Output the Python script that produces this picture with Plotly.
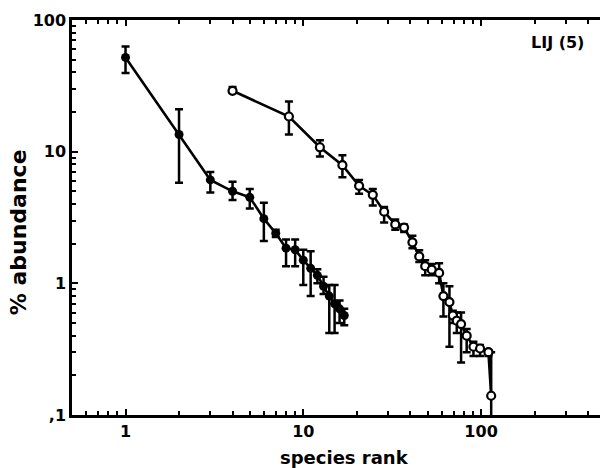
import numpy as np
import plotly.graph_objects as go

# Filled-circle series
rank_a = [1, 2, 3, 4, 5, 6, 7, 8, 9, 10, 11, 12, 13, 14, 15, 16, 17]
abund_a = [52, 13.5, 6.1, 5.0, 4.5, 3.1, 2.4, 1.85, 1.8, 1.5, 1.3, 1.15, 0.95, 0.8, 0.7, 0.64, 0.57]
low_a = [39.5, 5.8, 4.9, 4.3, 3.7, 2.1, 2.25, 1.35, 1.35, 0.97, 0.8, 1.0, 0.83, 0.42, 0.42, 0.5, 0.48]
high_a = [63, 21, 7.0, 5.9, 5.2, 4.1, 2.55, 2.15, 2.15, 1.8, 1.75, 1.28, 1.12, 0.97, 0.97, 0.74, 0.64]

# Open-circle series
rank_b = [4, 8.3, 12.4, 16.6, 20.6, 24.6, 28.5, 32.9, 36.9, 41.1, 44.9, 48.5, 52.8, 58.1,
          61.4, 66.4, 69.4, 73, 77.2, 83, 90.6, 98.7, 110, 114]
abund_b = [29, 18.5, 10.8, 7.9, 5.5, 4.7, 3.5, 2.8, 2.65, 2.05, 1.6, 1.35, 1.27, 1.2,
           0.8, 0.72, 0.57, 0.52, 0.49, 0.4, 0.33, 0.32, 0.3, 0.14]
low_b = [28, 13.5, 9.2, 6.4, 4.8, 3.9, 2.9, 2.55, 2.45, 1.85, 1.45, 1.15, 1.15, 1.0,
         0.56, 0.33, 0.5, 0.42, 0.25, 0.3, 0.28, 0.28, 0.28, 0.05]
high_b = [31, 24, 12.2, 9.4, 6.1, 5.2, 3.8, 3.05, 2.8, 2.3, 1.78, 1.5, 1.4, 1.42,
          1.0, 0.95, 0.62, 0.6, 0.6, 0.45, 0.36, 0.34, 0.31, 0.3]

y_tickvals = [0.1, 1, 10, 100]
y_ticktext = [",1", "1", "10", "100"]
x_tickvals = [1, 10, 100]
x_ticktext = ["1", "10", "100"]

FONT = "DejaVu Sans"

minor_x = [m * d for d in (0.1, 1, 10, 100) for m in range(2, 10) if 0.5 <= m * d <= 470]
minor_y = [m * d for d in (0.1, 1, 10) for m in range(2, 10)]


def err(y, lo, hi):
    y, lo, hi = np.array(y), np.array(lo), np.array(hi)
    return dict(type="data", symmetric=False, array=hi - y, arrayminus=y - lo,
                color="black", thickness=2.5, width=4)


fig = go.Figure()
fig.add_trace(go.Scatter(
    x=rank_a, y=abund_a, mode="lines+markers",
    line=dict(color="black", width=2.6),
    marker=dict(symbol="circle", size=9, color="black"),
    error_y=err(abund_a, low_a, high_a), showlegend=False, cliponaxis=True))
fig.add_trace(go.Scatter(
    x=rank_b, y=abund_b, mode="lines+markers",
    line=dict(color="black", width=2.6),
    marker=dict(symbol="circle", size=8, color="white", line=dict(color="black", width=2.2)),
    error_y=err(abund_b, low_b, high_b), showlegend=False, cliponaxis=True))

fig.update_layout(
    width=600, height=468,
    margin=dict(l=72, r=0, t=20, b=53),
    plot_bgcolor="white", paper_bgcolor="white",
    font=dict(family=FONT, color="black", size=16, weight="bold"),
    xaxis=dict(type="log", range=[np.log10(0.5), 2.669],
               showline=True, linecolor="black", linewidth=2.5, mirror="ticks",
               ticks="inside", ticklen=6, tickwidth=2, tickcolor="black",
               tickvals=x_tickvals, ticktext=x_ticktext,
               tickfont=dict(family=FONT, size=16, weight="bold"),
               minor=dict(ticks="inside", ticklen=4, tickwidth=1.5, tickcolor="black",
                          showgrid=False, tickvals=minor_x),
               showgrid=False, zeroline=False),
    yaxis=dict(type="log", range=[-1, 2],
               showline=True, linecolor="black", linewidth=2.5,
               ticks="inside", ticklen=6, tickwidth=2, tickcolor="black",
               tickvals=y_tickvals, ticktext=y_ticktext,
               tickfont=dict(family=FONT, size=16, weight="bold"),
               minor=dict(ticks="inside", ticklen=4, tickwidth=1.5, tickcolor="black",
                          showgrid=False, tickvals=minor_y),
               showgrid=False, zeroline=False),
    annotations=[
        dict(text="species rank", xref="paper", yref="paper", x=0.517, y=-0.107,
             showarrow=False, font=dict(family=FONT, size=18, weight="bold"),
             xanchor="center", yanchor="middle"),
        dict(text="% abundance", xref="paper", yref="paper", x=-0.102, y=0.463,
             showarrow=False, textangle=-90, font=dict(family=FONT, size=22, weight="bold"),
             xanchor="center", yanchor="middle"),
        dict(text="LIJ (5)", xref="paper", yref="paper", x=0.9735, y=0.942,
             showarrow=False, font=dict(family=FONT, size=16, weight="bold"),
             xanchor="right", yanchor="middle"),
    ],
)

fig.write_html("out.html")
